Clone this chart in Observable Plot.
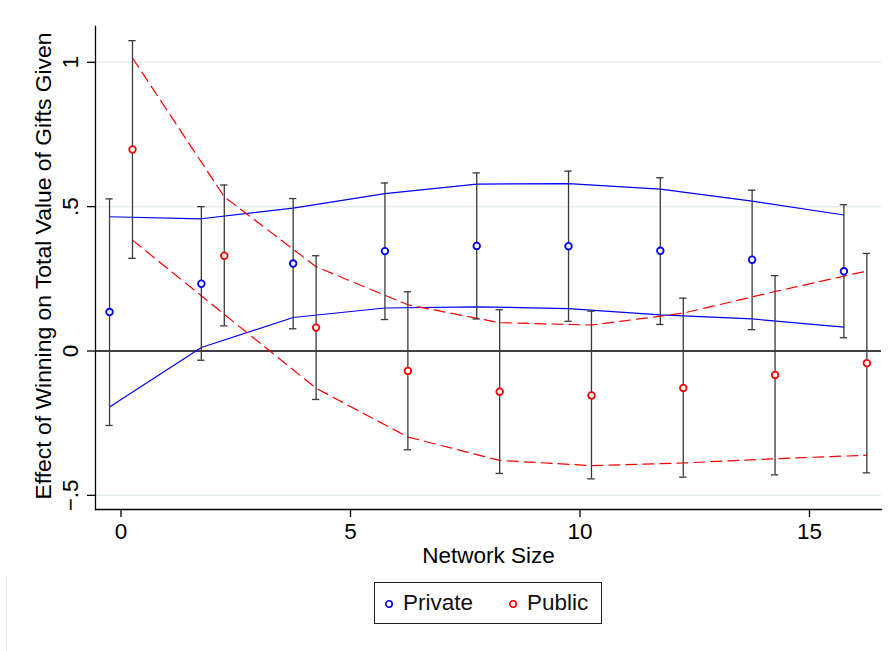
<!DOCTYPE html>
<html>
<head>
<meta charset="utf-8">
<script src="https://cdn.jsdelivr.net/npm/d3@7"></script>
<script src="https://cdn.jsdelivr.net/npm/@observablehq/plot@0.6"></script>
<style>
  html, body { margin: 0; padding: 0; background: white; }
  #wrap { position: relative; width: 894px; height: 651px; background: white; overflow: hidden;
          font-family: "Liberation Sans", Arial, Helvetica, sans-serif; }
  #frame { position: absolute; left: 6px; top: 3px; width: 900px; height: 660px;
           border-top: 1.5px solid #e6eef0; border-left: 1.5px solid #e6eef0; }
  #chart { position: absolute; left: 0; top: 0; }
  #legend { position: absolute; left: 374px; top: 582px; width: 226px; height: 40px;
            border: 1px solid #222; background: white; font-size: 22.5px; color: #111; }
  .item { position: absolute; top: 0; height: 40px; line-height: 40px; white-space: nowrap; }
  .item svg { position: absolute; top: 16px; left: 0; }
  .item span { position: absolute; left: 19px; top: 0; }
</style>
</head>
<body>
<div id="wrap">
  <div id="frame"></div>
  <div id="chart"></div>
  <div id="legend">
    <div class="item" style="left:9px"><svg width="10" height="10"><circle cx="5" cy="5" r="3.2" fill="white" stroke="#0000ff" stroke-width="1.6"/></svg><span>Private</span></div>
    <div class="item" style="left:133px"><svg width="10" height="10"><circle cx="5" cy="5" r="3.2" fill="white" stroke="#ff0000" stroke-width="1.6"/></svg><span>Public</span></div>
  </div>
</div>
<script>
// Network sizes (categories)
const sizes = [0, 2, 4, 6, 8, 10, 12, 14, 16];

// Private series
const privEst    = [0.135, 0.233, 0.303, 0.346, 0.364, 0.363, 0.347, 0.316, 0.276];
const privLo     = [-0.258, -0.032, 0.077, 0.109, 0.111, 0.103, 0.092, 0.074, 0.046];
const privHi     = [0.527, 0.500, 0.528, 0.582, 0.617, 0.623, 0.600, 0.557, 0.507];
const privBandHi = [0.465, 0.458, 0.495, 0.545, 0.578, 0.580, 0.561, 0.519, 0.471];
const privBandLo = [-0.194, 0.012, 0.116, 0.149, 0.153, 0.147, 0.125, 0.111, 0.083];

// Public series
const pubEst    = [0.698, 0.330, 0.081, -0.069, -0.141, -0.154, -0.128, -0.083, -0.042];
const pubLo     = [0.321, 0.087, -0.168, -0.342, -0.424, -0.443, -0.437, -0.429, -0.422];
const pubHi     = [1.075, 0.575, 0.330, 0.205, 0.143, 0.138, 0.183, 0.261, 0.338];
const pubBandHi = [1.015, 0.534, 0.292, 0.160, 0.098, 0.090, 0.131, 0.206, 0.277];
const pubBandLo = [0.384, 0.127, -0.129, -0.298, -0.379, -0.397, -0.388, -0.373, -0.361];

// Axis ticks and labels
const xTicks = [0, 5, 10, 15];
const yTicks = [-0.5, 0, 0.5, 1];
const yTickLabels = ["\u2212.5", "0", ".5", "1"];
const yGrid = [-0.5, 0.5, 1];
const xLabel = "Network Size";
const yLabel = "Effect of Winning on Total Value of Gifts Given";

const OFFSET = 0.25;   // horizontal dodge of the two groups
const CAP = 0.08;      // half width of error-bar caps (x units)

const build = (est, lo, hi, bhi, blo, off) => sizes.map((s, i) => ({
  x: s + off, est: est[i], lo: lo[i], hi: hi[i], bhi: bhi[i], blo: blo[i]
}));
const priv = build(privEst, privLo, privHi, privBandHi, privBandLo, -OFFSET);
const pub  = build(pubEst, pubLo, pubHi, pubBandHi, pubBandLo, OFFSET);
const all = priv.concat(pub);

const BLUE = "#0000ff", RED = "#ff0000", BAR = "#3a3a3a";
const DASH = "11,6";
const FS = 22.5;

const chart = Plot.plot({
  width: 894,
  height: 575,
  marginLeft: 95,
  marginRight: 13,
  marginTop: 26,
  marginBottom: 66,
  x: {domain: [-0.556, 16.569]},
  y: {domain: [-0.549, 1.124]},
  style: {fontFamily: '"Liberation Sans", Arial, Helvetica, sans-serif', fontSize: FS + "px", background: "white", color: "black", overflow: "visible"},
  marks: [
    Plot.gridY(yGrid, {stroke: "#e6eef0", strokeOpacity: 1, strokeWidth: 1.5}),
    Plot.ruleY([0], {stroke: "black", strokeWidth: 1.3}),
    // confidence bands
    Plot.line(priv, {x: "x", y: "bhi", stroke: BLUE, strokeWidth: 1.2}),
    Plot.line(priv, {x: "x", y: "blo", stroke: BLUE, strokeWidth: 1.2}),
    Plot.line(pub, {x: "x", y: "bhi", stroke: RED, strokeWidth: 1.2, strokeDasharray: DASH}),
    Plot.line(pub, {x: "x", y: "blo", stroke: RED, strokeWidth: 1.2, strokeDasharray: DASH}),
    // error bars
    Plot.ruleX(all, {x: "x", y1: "lo", y2: "hi", stroke: BAR, strokeWidth: 1.3}),
    Plot.ruleY(all, {y: "lo", x1: d => d.x - CAP, x2: d => d.x + CAP, stroke: BAR, strokeWidth: 1.3}),
    Plot.ruleY(all, {y: "hi", x1: d => d.x - CAP, x2: d => d.x + CAP, stroke: BAR, strokeWidth: 1.3}),
    // point estimates
    Plot.dot(priv, {x: "x", y: "est", r: 3.3, stroke: BLUE, strokeWidth: 1.8, fill: "white"}),
    Plot.dot(pub, {x: "x", y: "est", r: 3.3, stroke: RED, strokeWidth: 1.8, fill: "white"}),
    // axes
    Plot.frame({anchor: "left", stroke: "black", strokeWidth: 1.3}),
    Plot.frame({anchor: "bottom", stroke: "black", strokeWidth: 1.3}),
    Plot.axisX(xTicks, {tickSize: 8, tickPadding: 6, label: null, fontSize: FS, strokeWidth: 1.3}),
    Plot.axisY(yTicks, {tickSize: 8, tickFormat: () => "", label: null, strokeWidth: 1.3}),
    Plot.text(yTicks, {y: d => d, text: (d, i) => yTickLabels[i], frameAnchor: "left", dx: -25, rotate: -90, textAnchor: "middle", lineAnchor: "middle", fontSize: FS, fill: "black"}),
    Plot.text([yLabel], {text: d => d, frameAnchor: "left", dx: -52, dy: -2, rotate: -90, textAnchor: "middle", lineAnchor: "middle", fontSize: 22.9, fill: "black"}),
    Plot.text([xLabel], {text: d => d, frameAnchor: "bottom", dy: 46, textAnchor: "middle", lineAnchor: "middle", fontSize: FS, fill: "black"})
  ]
});
document.getElementById("chart").appendChild(chart);
</script>
</body>
</html>
